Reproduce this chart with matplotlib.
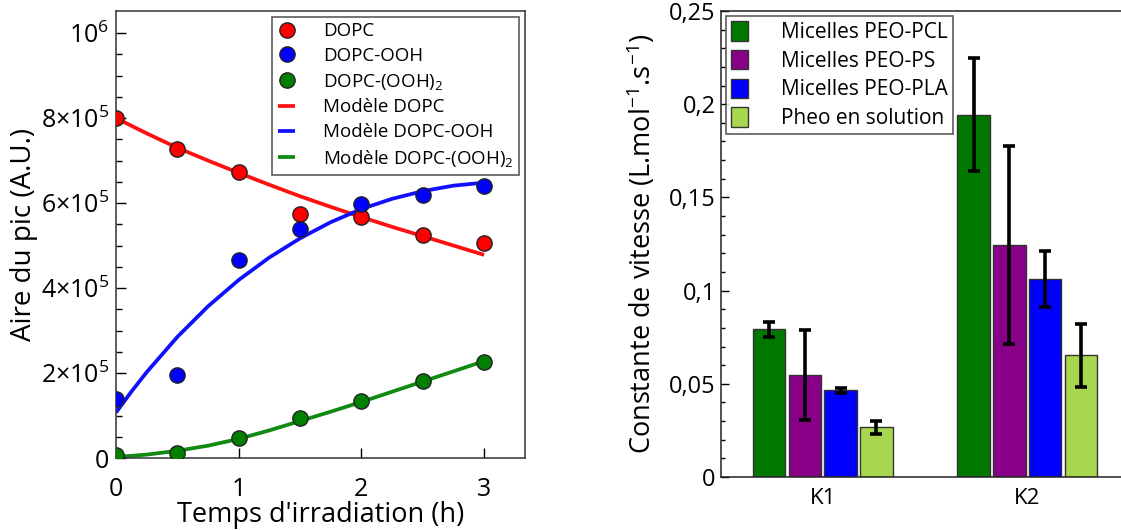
import matplotlib
matplotlib.use('Agg')
import matplotlib.pyplot as plt
import numpy as np

plt.rcParams['font.family'] = ['Open Sans', 'DejaVu Sans']
plt.rcParams['mathtext.fontset'] = 'custom'
plt.rcParams['mathtext.rm'] = 'Open Sans'
plt.rcParams['mathtext.it'] = 'Open Sans:italic'
plt.rcParams['mathtext.bf'] = 'Open Sans:bold'

# --- left panel: peak area vs irradiation time ---
temps = [0, 0.5, 1, 1.5, 2, 2.5, 3]
dopc = [8.0e5, 7.28e5, 6.74e5, 5.74e5, 5.68e5, 5.26e5, 5.07e5]
dopc_ooh = [1.39e5, 1.96e5, 4.67e5, 5.39e5, 5.97e5, 6.19e5, 6.39e5]
dopc_ooh2 = [6e3, 1.2e4, 4.6e4, 9.5e4, 1.33e5, 1.81e5, 2.27e5]

temps_model = [0, 0.125, 0.25, 0.5, 0.75, 1, 1.25, 1.5, 1.75, 2, 2.25, 2.5, 2.75, 3]
model_dopc = [8.0e5, 7.82e5, 7.64e5, 7.30e5, 7.0e5, 6.71e5, 6.43e5, 6.16e5, 5.91e5, 5.67e5,
              5.44e5, 5.22e5, 5.0e5, 4.78e5]
model_ooh = [1.07e5, 1.56e5, 2.02e5, 2.85e5, 3.57e5, 4.19e5, 4.72e5, 5.17e5, 5.55e5, 5.86e5,
             6.10e5, 6.28e5, 6.41e5, 6.48e5]
model_ooh2 = [3e3, 5e3, 8e3, 1.7e4, 2.9e4, 4.5e4, 6.5e4, 8.7e4, 1.09e5, 1.32e5,
              1.56e5, 1.8e5, 2.04e5, 2.28e5]

# --- right panel: rate constants ---
constantes = ['K1', 'K2']
series = ['Micelles PEO-PCL', 'Micelles PEO-PS', 'Micelles PEO-PLA', 'Pheo en solution']
valeurs = [[0.0792, 0.1944],
           [0.0547, 0.1243],
           [0.0465, 0.1062],
           [0.0267, 0.0653]]
erreurs = [[0.0039, 0.0303],
           [0.024, 0.0531],
           [0.0012, 0.0149],
           [0.0034, 0.0169]]
couleurs = ['#007800', '#880088', '#0000FF', '#A8D64F']

fig = plt.figure(figsize=(11.21, 5.30), dpi=100)

ax1 = fig.add_axes([116 / 1121, 72 / 530, 409 / 1121, 447 / 530])
mk = dict(marker='o', markersize=11, markeredgecolor='#222222', markeredgewidth=1.0,
          linestyle='none', zorder=3)
lw = dict(lw=2.7, solid_joinstyle='round', solid_capstyle='butt', zorder=2)
ax1.plot(temps_model, model_dopc, color='#FF1010', label='Modèle DOPC', **lw)
ax1.plot(temps_model, model_ooh, color='#1010FF', label='Modèle DOPC-OOH', **lw)
ax1.plot(temps_model, model_ooh2, color='#108A10', label='Modèle DOPC-(OOH)$_2$', **lw)
ax1.plot(temps, dopc, color='#FF0000', label='DOPC', **mk)
ax1.plot(temps, dopc_ooh, color='#0000FF', label='DOPC-OOH', **mk)
ax1.plot(temps, dopc_ooh2, color='#007F00', label='DOPC-(OOH)$_2$', **mk)

ax1.set_xlim(0, 3.333)
ax1.set_ylim(0, 1.052e6)
ax1.set_xticks([0, 1, 2, 3])
ax1.set_yticks([0, 2e5, 4e5, 6e5, 8e5, 1e6])
ax1.set_yticklabels(['0', r'$2{\times}10^5$', r'$4{\times}10^5$', r'$6{\times}10^5$',
                     r'$8{\times}10^5$', r'$10^6$'])
ax1.set_yticks(np.arange(0, 1.05e6, 5e4), minor=True)
ax1.tick_params(axis='both', which='major', direction='in', length=7, width=1,
                labelsize=18, top=False, right=False)
ax1.tick_params(axis='x', pad=14)
ax1.tick_params(axis='y', pad=5)
ax1.tick_params(axis='y', which='minor', direction='in', length=4, width=1)
ax1.set_xlabel("Temps d'irradiation (h)", fontsize=19.5)
ax1.xaxis.set_label_coords(0.5, -0.097)
ax1.set_ylabel('Aire du pic (A.U.)', fontsize=20)
ax1.yaxis.set_label_coords(-0.19, 0.5)
for s in ax1.spines.values():
    s.set_linewidth(1.1)
    s.set_color('#333333')

h, l = ax1.get_legend_handles_labels()
order = [3, 4, 5, 0, 1, 2]
leg1 = ax1.legend([h[i] for i in order], [l[i] for i in order], loc='upper right',
                  fontsize=13.5, frameon=True, fancybox=False, edgecolor='#333333',
                  handlelength=0.9, handletextpad=1.5, labelspacing=0.36,
                  borderaxespad=0.3, borderpad=0.3, numpoints=1)
leg1.get_frame().set_linewidth(1.2)

ax2 = fig.add_axes([720.7 / 1121, 53 / 530, 408.6 / 1121, 466 / 530])
x = np.arange(len(constantes))
pas = 0.175
largeur = 0.159
for i, nom in enumerate(series):
    ax2.bar(x + (i - 1.5) * pas, valeurs[i], largeur, color=couleurs[i],
            edgecolor='#333333', linewidth=1.0, label=nom,
            yerr=erreurs[i], error_kw=dict(ecolor='black', elinewidth=2.6,
                                           capsize=4.5, capthick=2.6))
ax2.set_xlim(-0.5, 1.5)
ax2.set_ylim(0, 0.25)
ax2.set_xticks(x)
ax2.set_xticklabels(constantes, fontsize=16)
ax2.set_yticks([0, 0.05, 0.1, 0.15, 0.2, 0.25])
ax2.set_yticklabels(['0', '0,05', '0,1', '0,15', '0,2', '0,25'])
ax2.set_yticks(np.arange(0, 0.251, 0.01), minor=True)
ax2.tick_params(axis='x', length=0, pad=8)
ax2.tick_params(axis='y', which='major', direction='in', length=6, width=1, labelsize=17)
ax2.tick_params(axis='y', which='minor', direction='in', length=3, width=1)
ax2.set_ylabel('Constante de vitesse (L.mol$^{-1}$.s$^{-1}$)', fontsize=19.5, labelpad=8)
for s in ax2.spines.values():
    s.set_linewidth(1.1)
    s.set_color('#222222')

leg2 = ax2.legend(loc='upper left', fontsize=15, frameon=True, fancybox=False,
                  edgecolor='#333333', handlelength=0.8, handleheight=1.05,
                  handletextpad=1.6, labelspacing=0.33, borderaxespad=0.25,
                  borderpad=0.25)
leg2.get_frame().set_linewidth(1.2)

fig.savefig('out.png', dpi=100)
